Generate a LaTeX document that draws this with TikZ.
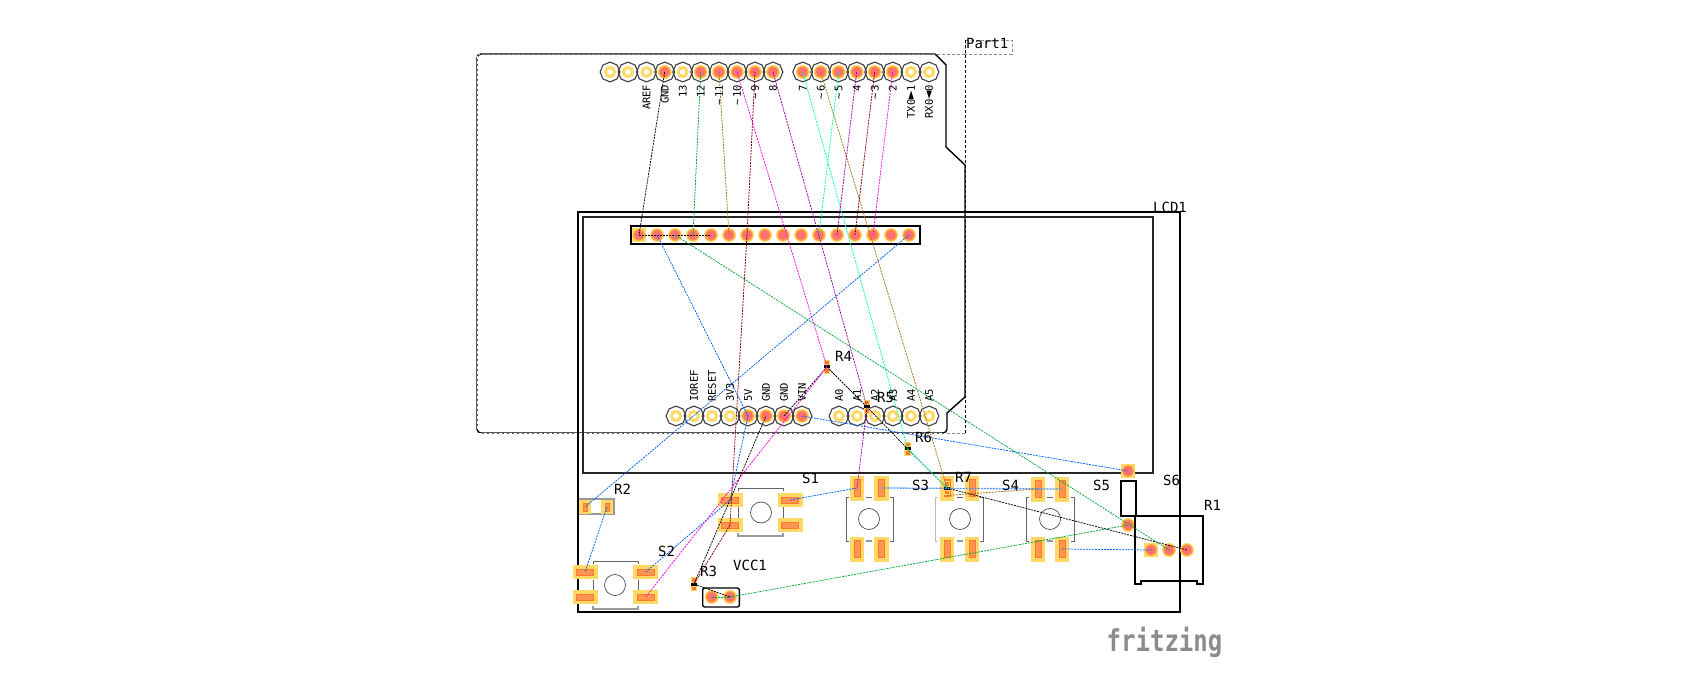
\documentclass[tikz,border=0pt]{standalone}
\usepackage{fontspec}
\setmonofont{DejaVu Sans Mono}
\usetikzlibrary{shapes.geometric}

\definecolor{padyellow}{HTML}{FFD966}
\definecolor{padorange}{HTML}{FF9A3C}
\definecolor{padred}{HTML}{FF7070}
\definecolor{inneror}{HTML}{FF7A2E}
\definecolor{innerfill}{HTML}{FF9550}
\definecolor{wcyan}{HTML}{00FFAA}
\definecolor{wbrown}{HTML}{A8701A}
\definecolor{wdred}{HTML}{800000}
\definecolor{wpurple}{HTML}{A000A0}
\definecolor{wgreen}{HTML}{00A838}
\definecolor{wblue}{HTML}{0060FF}
\definecolor{wpink}{HTML}{FF00F0}

\tikzset{
  pinopen/.style={regular polygon, regular polygon sides=8, shape border rotate=22.5,
    draw=black!75, line width=1.1pt, minimum size=19.8pt, inner sep=0pt,
    path picture={\draw[padyellow, line width=3pt] (path picture bounding box.center) circle [radius=4.5pt];}},
  pinon/.style={regular polygon, regular polygon sides=8, shape border rotate=22.5,
    draw=black!75, line width=1.1pt, minimum size=19.8pt, inner sep=0pt,
    path picture={\fill[padyellow] (path picture bounding box.center) circle [radius=7pt];
      \fill[padorange] (path picture bounding box.center) circle [radius=5.8pt];
      \fill[padred] (path picture bounding box.center) circle [radius=4.6pt];}},
  padround/.style={circle, minimum size=14pt, inner sep=0pt, fill=padyellow,
    path picture={\fill[padorange] (path picture bounding box.center) circle [radius=5.8pt];
      \fill[padred] (path picture bounding box.center) circle [radius=4.6pt];}},
  padsquare/.style={rectangle, minimum size=14pt, inner sep=0pt, fill=padyellow,
    path picture={\fill[padorange] (path picture bounding box.center) circle [radius=5.8pt];
      \fill[padred] (path picture bounding box.center) circle [radius=4.6pt];}},
  btnflat/.style={rectangle, minimum width=25pt, minimum height=14.5pt, inner sep=0pt, fill=padyellow,
    path picture={\draw[inneror, fill=innerfill, line width=0.8pt] (path picture bounding box.center)
      ++(-8.5pt,-3pt) rectangle ++(17pt,6pt);}},
  btntall/.style={rectangle, minimum width=14.5pt, minimum height=25pt, inner sep=0pt, fill=padyellow,
    path picture={\draw[inneror, fill=innerfill, line width=0.8pt] (path picture bounding box.center)
      ++(-3pt,-8.5pt) rectangle ++(6pt,17pt);}},
  respad/.style={rectangle, minimum width=11.5pt, minimum height=14.5pt, inner sep=0pt, fill=padyellow,
    path picture={\draw[inneror, fill=innerfill, line width=0.8pt] (path picture bounding box.center)
      ++(-2pt,-4pt) rectangle ++(4pt,8pt);}},
  resmini/.style={rectangle, minimum width=6.5pt, minimum height=14.5pt, inner sep=0pt, fill=padyellow,
    path picture={\fill[inneror] (path picture bounding box.center) ++(-2pt,-6pt) rectangle ++(4pt,3.5pt);
      \fill[inneror] (path picture bounding box.center) ++(-2pt,2.5pt) rectangle ++(4pt,3.5pt);
      \fill[black] (path picture bounding box.center) ++(-3pt,-1.5pt) rectangle ++(6pt,3pt);}},
  pinlab/.style={inner sep=0pt, rotate=90, font=\ttfamily\fontsize{10.5}{12}\selectfont},
  partlab/.style={inner sep=0pt, font=\ttfamily\fontsize{14}{16}\selectfont},
  board/.style={line width=1.6pt, black},
  wire/.style={line width=0.75pt, dash pattern=on 2pt off 1pt},
}
\newcommand{\tildegap}{\textasciitilde\kern 2pt}
\newcommand{\bigsym}[1]{{\fontsize{14}{14}\selectfont #1}}

\begin{document}
\begin{tikzpicture}[%
        x = 1pt, y = -1pt
    ]
      \useasboundingbox (0,0) rectangle (1698,700);
      % shield outline and selection box
      \draw[line width=1.4pt] (935,54) -- (946,65) -- (946,147) -- (965,165) -- (965,397) -- (947,413) [rounded corners=4pt] -- (947,433) -- (477,433) -- (477,54) -- (500,54) [sharp corners] -- (935,54);
      \draw[black!45, densely dashed, line width=0.6pt] (477,54) -- (965,54) (965,54) -- (965,40) -- (1012,40) -- (1012,54) -- (965,54);
      \draw[black!45, densely dashed, line width=0.6pt] (947,433) -- (965,433);
      \draw[densely dashed, line width=0.6pt] (965,40) -- (965,433);
      \draw[white, densely dashed, line width=0.5pt] (477,56) -- (477,431) (479,433) -- (945,433);
      % lcd outline
      \draw[board] (578,212) rectangle (1180,612);
      \draw[black!85, line width=1.2pt] (583,217) rectangle (1153,473);
      \draw[board] (631,226) rectangle (920,244);
      % headers of the shield
      \node[pinopen] (nca) at (610,72) {};
      \node[pinopen] (ncb) at (628,72) {};
      \node[pinopen] (aref) at (646.5,72) {};
      \node[pinon] (gndtop) at (664.7,72) {};
      \node[pinopen] (d13) at (682.7,72) {};
      \node[pinon] (d12) at (700.7,72) {};
      \node[pinon] (d11) at (719,72) {};
      \node[pinon] (d10) at (737,72) {};
      \node[pinon] (d9) at (755,72) {};
      \node[pinon] (d8) at (773,72) {};
      \node[pinon] (d7) at (802.7,72) {};
      \node[pinon] (d6) at (820.7,72) {};
      \node[pinon] (d5) at (838.7,72) {};
      \node[pinon] (d4) at (856.7,72) {};
      \node[pinon] (d3) at (874.7,72) {};
      \node[pinon] (d2) at (892.7,72) {};
      \node[pinopen] (d1) at (911,72) {};
      \node[pinopen] (d0) at (929,72) {};
      \node[pinopen] (ncc) at (676,416) {};
      \node[pinopen] (ioref) at (694,416) {};
      \node[pinopen] (reset) at (712,416) {};
      \node[pinopen] (vthree) at (730,416) {};
      \node[pinon] (vfive) at (748,416) {};
      \node[pinon] (gnda) at (766,416) {};
      \node[pinon] (gndb) at (784,416) {};
      \node[pinon] (vin) at (802,416) {};
      \node[pinopen] (a0) at (839,416) {};
      \node[pinopen] (a1) at (857,416) {};
      \node[pinopen] (a2) at (875,416) {};
      \node[pinopen] (a3) at (893,416) {};
      \node[pinopen] (a4) at (911,416) {};
      \node[pinopen] (a5) at (929,416) {};
      % pads of the lcd
      \node[padsquare] (lcda) at (639,235) {};
      \node[padround] (lcdb) at (657,235) {};
      \node[padround] (lcdc) at (675,235) {};
      \node[padround] (lcdd) at (693,235) {};
      \node[padround] (lcde) at (711,235) {};
      \node[padround] (lcdf) at (729,235) {};
      \node[padround] (lcdg) at (747,235) {};
      \node[padround] (lcdh) at (765,235) {};
      \node[padround] (lcdi) at (783,235) {};
      \node[padround] (lcdj) at (801,235) {};
      \node[padround] (lcdk) at (819,235) {};
      \node[padround] (lcdl) at (837,235) {};
      \node[padround] (lcdm) at (855,235) {};
      \node[padround] (lcdn) at (873,235) {};
      \node[padround] (lcdo) at (891,235) {};
      \node[padround] (lcdp) at (909,235) {};
      % push buttons
      \draw[black!60, line width=0.9pt] (738,491) -- (738,488) -- (783,488) -- (783,491) (738,507) -- (738,518) (783,507) -- (783,518);
      \draw[black!40, line width=1.2pt] (738,533) -- (738,536) -- (783,536) -- (783,533);
      \draw[black!70, line width=0.7pt] (761,512.5) circle [radius=10.5];
      \draw[black!60, line width=0.9pt] (593,564) -- (593,561) -- (638,561) -- (638,564) (593,580) -- (593,590) (638,580) -- (638,590);
      \draw[black!40, line width=1.2pt] (593,606) -- (593,609) -- (638,609) -- (638,606);
      \draw[black!70, line width=0.7pt] (615,585) circle [radius=10.5];
      \draw[black!60, line width=0.9pt] (849,497) -- (846,497) -- (846,541) -- (849,541) (890,497) -- (893,497) -- (893,541) -- (890,541) (866,497) -- (872,497);
      \draw[black!40, line width=1.2pt] (866,541) -- (872,541);
      \draw[black!70, line width=0.7pt] (869,519) circle [radius=10.5];
      \draw[black!25, line width=0.9pt] (938,497) -- (935,497) -- (935,541) -- (938,541);
      \draw[black!60, line width=0.9pt] (980,497) -- (983,497) -- (983,541) -- (980,541) (957,497) -- (963,497);
      \draw[black!40, line width=1.2pt] (957,541) -- (963,541);
      \draw[black!70, line width=0.7pt] (960,519) circle [radius=10.5];
      \draw[black!60, line width=0.9pt] (1029,497) -- (1026,497) -- (1026,541) -- (1029,541) (1071,497) -- (1074,497) -- (1074,541) -- (1071,541) (1047,497) -- (1053,497);
      \draw[black!40, line width=1.2pt] (1047,541) -- (1053,541);
      \draw[black!70, line width=0.7pt] (1050,519) circle [radius=10.5];
      \node[btnflat] (sonea) at (730,500) {};
      \node[btnflat] (soneb) at (730,525) {};
      \node[btnflat] (sonec) at (790,500) {};
      \node[btnflat] (soned) at (790,525) {};
      \node[btnflat] (stwoa) at (585,572) {};
      \node[btnflat] (stwob) at (585,597) {};
      \node[btnflat] (stwoc) at (645.7,572) {};
      \node[btnflat] (stwod) at (645.7,597) {};
      \node[btntall] (sthreea) at (857,488) {};
      \node[btntall] (sthreeb) at (881.7,488) {};
      \node[btntall] (sthreec) at (857,549) {};
      \node[btntall] (sthreed) at (881.7,549) {};
      \node[btntall] (sfoura) at (947,488) {};
      \node[btntall] (sfourb) at (972,488) {};
      \node[btntall] (sfourc) at (947,549) {};
      \node[btntall] (sfourd) at (972,549) {};
      \node[btntall] (sfivea) at (1038,489) {};
      \node[btntall] (sfiveb) at (1062,489) {};
      \node[btntall] (sfivec) at (1038,549) {};
      \node[btntall] (sfived) at (1062,549) {};
      % resistors
      \draw[black!40, line width=1.2pt] (579,499) -- (614,499) -- (614,514) -- (579,514);
      \node[respad] (rtwoa) at (585,507) {};
      \node[respad] (rtwob) at (607,507) {};
      \node[resmini] (rthree) at (694,584) {};
      \node[resmini] (rfour) at (827,367) {};
      \node[resmini] (rfive) at (867,407) {};
      \node[resmini] (rsix) at (907.7,449) {};
      \node[resmini] (rseven) at (947,488) {};
      % vcc header, s6 and r1
      \draw[line width=1.4pt, rounded corners=2pt] (702.7,588) rectangle (739.3,607);
      \node[padround] (vcca) at (711.7,597) {};
      \node[padround] (vccb) at (730,597) {};
      \draw[line width=1.4pt] (1121,481) rectangle (1136,516);
      \node[padsquare] (ssixa) at (1128,471) {};
      \node[padround] (ssixb) at (1128,525) {};
      \draw[line width=1.2pt] (1135,516) -- (1203,516) -- (1203,584) -- (1197,584) -- (1197,581) -- (1141,581) -- (1141,584) -- (1135,584) -- cycle;
      \node[padsquare] (rone) at (1151,550) {};
      \node[padround] (roneb) at (1169,550) {};
      \node[padround] (ronec) at (1187,550) {};
      % ratsnest
      \draw[wire] (gndtop.center) -- (lcda.center);
      \draw[wire] (lcda.center) -- (lcde.center);
      \draw[wire] (rthree.center) -- (gnda.center);
      \draw[wire] (rthree.center) -- (vccb.center);
      \draw[wire] (gndb.center) -- (rfour.center);
      \draw[wire] (rfour.center) -- (rfive.center);
      \draw[wire] (rfive.center) -- (rsix.center);
      \draw[wire] (rsix.center) -- (rseven.center);
      \draw[wire] (rseven.center) -- (ronec.center);
      \draw[wire, wblue] (lcdb.center) -- (vfive.center);
      \draw[wire, wblue] (vfive.center) -- (sonea.center);
      \draw[wire, wblue] (lcdp.center) -- (rtwoa.center);
      \draw[wire, wblue] (vin.center) -- (ssixa.center);
      \draw[wire, wblue] (stwoc.center) -- (sonea.center);
      \draw[wire, wblue] (rtwob.center) -- (stwoa.center);
      \draw[wire, wblue] (sonec.center) -- (sthreea.center);
      \draw[wire, wblue!70, line width=1.3pt] (sthreeb.center) -- (sfiveb.center);
      \draw[wire, wblue] (sfived.center) -- (rone.center);
      \draw[wire, wgreen] (d12.center) -- (lcdd.center);
      \draw[wire, wgreen] (lcdc.center) -- (roneb.center);
      \draw[wire, wgreen] (vccb.center) -- (ssixb.center);
      \draw[wire, wgreen] (vcca.center) -- (vccb.center);
      \draw[wire, wcyan] (d7.center) -- (rsix.center);
      \draw[wire, wcyan] (rsix.center) -- (rseven.center);
      \draw[wire, wcyan] (d5.center) -- (lcdk.center);
      \draw[wire, wbrown] (d11.center) -- (lcdf.center);
      \draw[wire, wbrown] (d6.center) -- (rseven.center);
      \draw[wire, wbrown] (rseven.south) -- (sfivea.center);
      \draw[wire, wdred] (d9.center) -- (lcdg.center);
      \draw[wire, wdred] (lcdg.center) -- (soneb.center);
      \draw[wire, wdred] (soneb.center) -- (rthree.center);
      \draw[wire, wdred] (d3.center) -- (lcdm.center);
      \draw[wire, wpurple] (d8.center) -- (rfive.center);
      \draw[wire, wpurple] (rfive.center) -- (sthreea.center);
      \draw[wire, wpurple] (d4.center) -- (lcdl.center);
      \draw[wire, wpink] (d10.center) -- (rfour.center);
      \draw[wire, wpink] (rfour.center) -- (stwod.center);
      \draw[wire, wpink] (d2.center) -- (lcdn.center);
      % pin labels
      \node[pinlab, anchor=east] (laref) at (646.5,84.5) {AREF};
      \node[pinlab, anchor=east] (lgndtop) at (664.7,84.5) {GND};
      \node[pinlab, anchor=east] (ld13) at (682.7,84.5) {13};
      \node[pinlab, anchor=east] (ld12) at (700.7,84.5) {12};
      \node[pinlab, anchor=east] (ld11) at (719,84.5) {\tildegap 11};
      \node[pinlab, anchor=east] (ld10) at (737,84.5) {\tildegap 10};
      \node[pinlab, anchor=east] (ld9) at (755,84.5) {\tildegap 9};
      \node[pinlab, anchor=east] (ld8) at (773,84.5) {8};
      \node[pinlab, anchor=east] (ld7) at (802.7,84.5) {7};
      \node[pinlab, anchor=east] (ld6) at (820.7,84.5) {\tildegap 6};
      \node[pinlab, anchor=east] (ld5) at (838.7,84.5) {\tildegap 5};
      \node[pinlab, anchor=east] (ld4) at (856.7,84.5) {4};
      \node[pinlab, anchor=east] (ld3) at (874.7,84.5) {\tildegap 3};
      \node[pinlab, anchor=east] (ld2) at (892.7,84.5) {2};
      \node[pinlab, anchor=east] (ld1) at (911,84.5) {TX0\bigsym{►}1};
      \node[pinlab, anchor=east] (ld0) at (929,84.5) {RX0\bigsym{◄}0};
      \node[pinlab, anchor=west] (lioref) at (694,402) {IOREF};
      \node[pinlab, anchor=west] (lreset) at (712,402) {RESET};
      \node[pinlab, anchor=west] (lvthree) at (730,402) {3V3};
      \node[pinlab, anchor=west] (lvfive) at (748,402) {5V};
      \node[pinlab, anchor=west] (lgnda) at (766,402) {GND};
      \node[pinlab, anchor=west] (lgndb) at (784,402) {GND};
      \node[pinlab, anchor=west] (lvin) at (802,402) {VIN};
      \node[pinlab, anchor=west] (la0) at (839,402) {A0};
      \node[pinlab, anchor=west] (la1) at (857,402) {A1};
      \node[pinlab, anchor=west] (la2) at (875,402) {A2};
      \node[pinlab, anchor=west] (la3) at (893,402) {A3};
      \node[pinlab, anchor=west] (la4) at (911,402) {A4};
      \node[pinlab, anchor=west] (la5) at (929,402) {A5};
      % part labels
      \node[partlab, anchor=west] (lpart) at (966,44) {Part1};
      \node[partlab, anchor=west] (llcd) at (1153,207) {LCD1};
      \node[partlab, anchor=west] (lrone) at (1204,505) {R1};
      \node[partlab, anchor=west] (lrtwo) at (614,489) {R2};
      \node[partlab, anchor=west] (lrthree) at (700,571) {R3};
      \node[partlab, anchor=west] (lrfour) at (835,356) {R4};
      \node[partlab, anchor=west] (lrfive) at (877,397) {R5};
      \node[partlab, anchor=west] (lrsix) at (915,437) {R6};
      \node[partlab, anchor=west] (lrseven) at (955,477) {R7};
      \node[partlab, anchor=west] (lsone) at (802,478) {S1};
      \node[partlab, anchor=west] (lstwo) at (658,551) {S2};
      \node[partlab, anchor=west] (lsthree) at (912,485) {S3};
      \node[partlab, anchor=west] (lsfour) at (1002,485) {S4};
      \node[partlab, anchor=west] (lsfive) at (1093,485) {S5};
      \node[partlab, anchor=west] (lssix) at (1163,480) {S6};
      \node[partlab, anchor=west] (lvcc) at (733,565) {VCC1};
      % logo
      \node[inner sep=0pt, text=black!45, xscale=0.8, transform shape, font=\ttfamily\bfseries\fontsize{30}{32}\selectfont] (logo) at (1164.5,642) {fritzing};
    \end{tikzpicture}
\end{document}
